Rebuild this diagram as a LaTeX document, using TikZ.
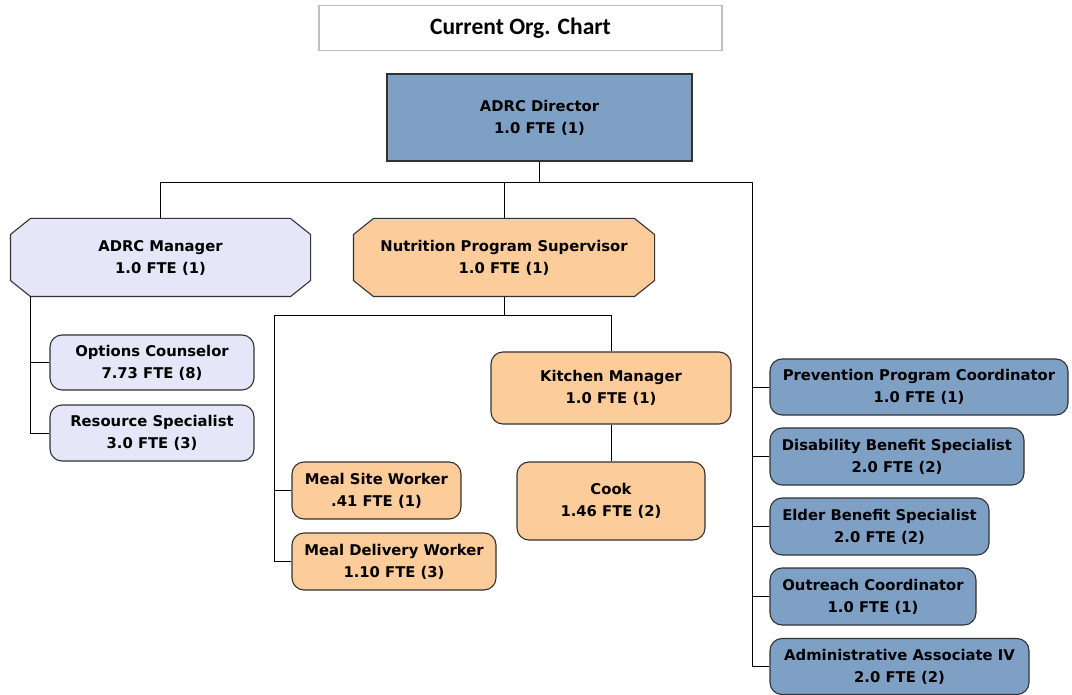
\documentclass[tikz,border=0pt]{standalone}
\usepackage{fontspec}
\setmainfont{DejaVu Sans}
\newfontfamily\titlefont{Carlito}
\usetikzlibrary{backgrounds}
\definecolor{orgBlue}{RGB}{127,160,197}
\definecolor{orgLav}{RGB}{230,230,248}
\definecolor{orgPeach}{RGB}{252,204,155}
\definecolor{orgLine}{RGB}{50,50,50}

\begin{document}
\begin{tikzpicture}[x=1pt,y=-1pt,
  postbox/.style={draw=orgLine,line width=1.1pt,align=center,inner sep=2pt,
    font=\fontsize{14.8}{22}\selectfont\bfseries},
  rbox/.style={postbox,rounded corners=12pt},
  obox/.style={postbox,draw=none},
  link/.style={draw=black,line width=0.9pt}]
\useasboundingbox (0,0) rectangle (1072,695);
% title
\node[draw=black!25,line width=1.5pt,minimum width=403pt,minimum height=45pt,
  font=\titlefont\fontsize{23.5}{26}\selectfont\bfseries] (title) at (520.5,28) {Current Org. Chart};
% top level
\node[postbox,fill=orgBlue,minimum width=305pt,minimum height=87pt] (dir) at (539.5,117.5) {ADRC Director\\1.0 FTE (1)};
\node[obox,minimum width=299pt,minimum height=77pt] (mgr) at (160.5,257.5) {ADRC Manager\\1.0 FTE (1)};
\node[obox,minimum width=300pt,minimum height=77pt] (nps) at (504,257.5) {Nutrition Program Supervisor\\1.0 FTE (1)};
\begin{scope}[on background layer]
\foreach \n/\c in {mgr/orgLav,nps/orgPeach}
  \filldraw[fill=\c,draw=orgLine,line width=1.1pt] ([xshift=20pt]\n.north west) -- ([xshift=-20pt]\n.north east)
    -- ([yshift=-16pt]\n.north east) -- ([yshift=16pt]\n.south east) -- ([xshift=-20pt]\n.south east)
    -- ([xshift=20pt]\n.south west) -- ([yshift=16pt]\n.south west) -- ([yshift=-16pt]\n.north west) -- cycle;
\end{scope}
% under the manager
\node[rbox,fill=orgLav,minimum width=204pt,minimum height=55pt] (oc) at (152,362.5) {Options Counselor\\7.73 FTE (8)};
\node[rbox,fill=orgLav,minimum width=204pt,minimum height=56pt] (rs) at (152,433) {Resource Specialist\\3.0 FTE (3)};
% nutrition
\node[rbox,fill=orgPeach,minimum width=240pt,minimum height=72pt] (km) at (611,388) {Kitchen Manager\\1.0 FTE (1)};
\node[rbox,fill=orgPeach,minimum width=188pt,minimum height=78pt] (cook) at (611,501) {Cook\\1.46 FTE (2)};
\node[rbox,fill=orgPeach,minimum width=169pt,minimum height=57pt] (msw) at (376.5,490.5) {Meal Site Worker\\.41 FTE (1)};
\node[rbox,fill=orgPeach,minimum width=204pt,minimum height=57pt] (mdw) at (394,561.5) {Meal Delivery Worker\\1.10 FTE (3)};
% right column
\node[rbox,fill=orgBlue,minimum width=298pt,minimum height=56pt] (ppc) at (919,387) {Prevention Program Coordinator\\1.0 FTE (1)};
\node[rbox,fill=orgBlue,minimum width=254pt,minimum height=57pt] (dbs) at (897,456.5) {Disability Benefit Specialist\\2.0 FTE (2)};
\node[rbox,fill=orgBlue,minimum width=219pt,minimum height=57pt] (ebs) at (879.5,526.5) {Elder Benefit Specialist\\2.0 FTE (2)};
\node[rbox,fill=orgBlue,minimum width=206pt,minimum height=57pt] (orc) at (873,596.5) {Outreach Coordinator\\1.0 FTE (1)};
\node[rbox,fill=orgBlue,minimum width=259pt,minimum height=56pt] (aa) at (899.5,666.5) {Administrative Associate IV\\2.0 FTE (2)};
% connectors
\coordinate (rtop) at (752,182);
\coordinate (mleg) at (30,296);
\coordinate (nsplit) at (274,315);
\draw[link] (dir.south) -- (dir.south |- rtop);
\draw[link] (mgr.north) |- (rtop) -- (aa.west -| rtop) -- (aa.west);
\draw[link] (nps.north) -- (nps.north |- rtop);
\foreach \b in {ppc,dbs,ebs,orc}
  \draw[link] (\b.west) -- (\b.west -| rtop);
\draw[link] (mleg) |- (rs.west);
\draw[link] (oc.west) -- (oc.west -| mleg);
\draw[link] (nps.south) -- (nps.south |- nsplit);
\draw[link] (mdw.west) -| (nsplit) -| (km.north);
\draw[link] (msw.west) -- (msw.west -| nsplit);
\draw[link] (km.south) -- (cook.north);
\end{tikzpicture}
\end{document}
